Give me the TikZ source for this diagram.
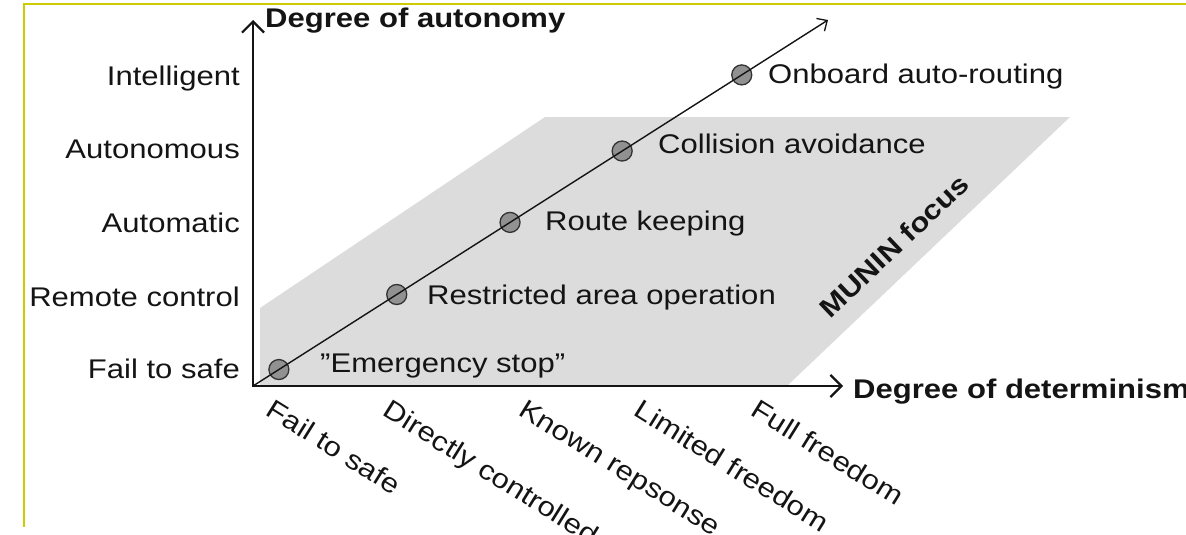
\documentclass[tikz,border=0pt]{standalone}
\usepackage{fontspec}
\setmainfont{Liberation Sans}[FakeStretch=1.15]
\usetikzlibrary{arrows.meta,calc}
\definecolor{framey}{RGB}{204,204,0}
\definecolor{focusgray}{RGB}{220,220,220}
\definecolor{dotgray}{RGB}{145,145,145}
\definecolor{ink}{RGB}{20,20,20}
\begin{document}
\begin{tikzpicture}[x=1pt,y=-1pt,
  axistip/.tip={Straight Barb[length=11pt,width=22pt,line width=2.2pt]},
  diagtip/.tip={Straight Barb[length=8pt,width=15pt,line width=1.3pt]},
  lbl/.style={inner sep=0pt, text=ink, font=\fontsize{27}{32}\selectfont},
  head/.style={inner sep=0pt, text=ink, font=\fontsize{27}{32}\selectfont\bfseries},
  axisline/.style={line width=2.4pt, draw=ink, line join=miter},
  diag/.style={line width=1.4pt, draw=ink, -diagtip},
  dot/.style={circle, draw=black!80, fill=dotgray, line width=1.3pt, minimum size=20pt, inner sep=0pt},
  bottomlbl/.style={lbl, anchor=north west, rotate=-32}
]
\useasboundingbox (0,0) rectangle (1186,535);
\clip (0,0) rectangle (1186,535);

% thin frame along the top and left edges
\draw[framey, line width=2pt] (1186,4) -- (24,4) -- (24,527);

% axis corner and tips
\coordinate (O) at (253,386);
\coordinate (ytip) at (253,20);
\coordinate (xtip) at (843,386);
\coordinate (T) at (828,20);

% shaded focus region
\fill[focusgray] (260,385) -- (260,308) -- (545,117) -- (1070,117) -- (788,385) -- cycle;

% axes
\draw[axisline, axistip-axistip] (ytip) -- (O) -- (xtip);

% levels on the diagonal
\node[dot] (p1) at ($(O)!0.045!(T)$) {};
\node[dot] (p2) at ($(O)!0.250!(T)$) {};
\node[dot] (p3) at ($(O)!0.447!(T)$) {};
\node[dot] (p4) at ($(O)!0.642!(T)$) {};
\node[dot] (p5) at ($(O)!0.850!(T)$) {};
\draw[diag] (O) -- (T);

% labels of the levels
\node[lbl, anchor=base west] (l1) at (320,372) {”Emergency stop”};
\node[lbl, anchor=base west] (l2) at (427,304) {Restricted area operation};
\node[lbl, anchor=base west] (l3) at (545,230) {Route keeping};
\node[lbl, anchor=base west] (l4) at (658,153) {Collision avoidance};
\node[lbl, anchor=base west] (l5) at (768,83) {Onboard auto-routing};

% vertical axis
\node[head, anchor=base west] (ya) at (265,28) {Degree of autonomy};
\node[lbl, anchor=base east] (y5) at (240,85) {Intelligent};
\node[lbl, anchor=base east] (y4) at (240,158) {Autonomous};
\node[lbl, anchor=base east] (y3) at (240,232) {Automatic};
\node[lbl, anchor=base east] (y2) at (240,306) {Remote control};
\node[lbl, anchor=base east] (y1) at (240,378) {Fail to safe};

% horizontal axis
\node[head, anchor=base west] (xa) at (853,398) {Degree of determinism};
\node[bottomlbl] (x1) at (275,398) {Fail to safe};
\node[bottomlbl] (x2) at (392,398) {Directly controlled};
\node[bottomlbl] (x3) at (527,398) {Known repsonse};
\node[bottomlbl] (x4) at (643,398) {Limited freedom};
\node[bottomlbl] (x5) at (760,398) {Full freedom};

% focus caption
\node[head, rotate=43.5] (focus) at (894,246) {MUNIN focus};
\end{tikzpicture}
\end{document}
